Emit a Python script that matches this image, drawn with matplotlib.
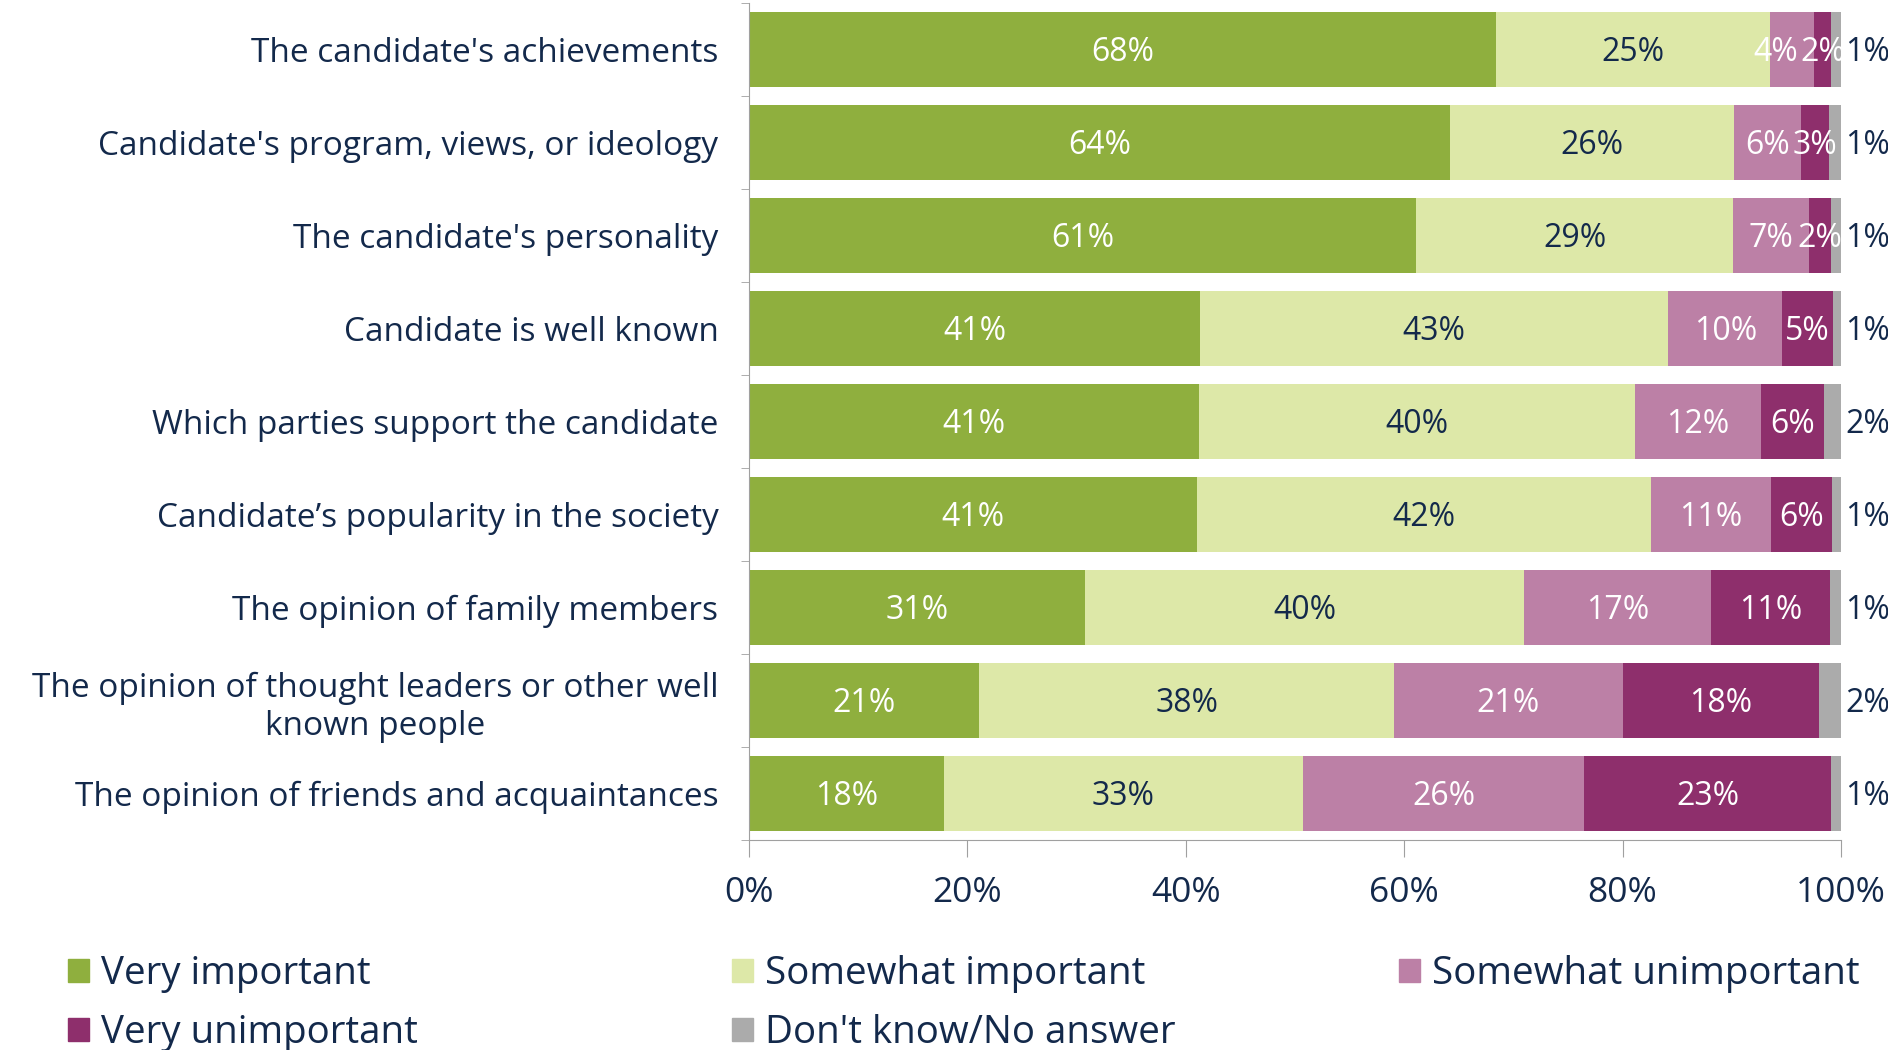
import matplotlib.pyplot as plt
from matplotlib.patches import Patch
from matplotlib.ticker import FixedLocator

plt.rcParams['font.family'] = ['Open Sans', 'DejaVu Sans']

categories = [
    "The candidate's achievements",
    "Candidate's program, views, or ideology",
    "The candidate's personality",
    "Candidate is well known",
    "Which parties support the candidate",
    "Candidate\u2019s popularity in the society",
    "The opinion of family members",
    "The opinion of thought leaders or other well\nknown people",
    "The opinion of friends and acquaintances",
]
series = ["Very important", "Somewhat important", "Somewhat unimportant",
          "Very unimportant", "Don't know/No answer"]

very_imp = [68.4, 64.2, 61.1, 41.3, 41.2, 41.0, 30.8, 21.1, 17.9]
some_imp = [25.1, 26.0, 29.0, 42.9, 39.9, 41.6, 40.2, 38.0, 32.8]
some_unimp = [4.0, 6.1, 7.0, 10.4, 11.6, 11.0, 17.1, 20.9, 25.8]
very_unimp = [1.6, 2.6, 2.0, 4.7, 5.7, 5.6, 10.9, 18.0, 22.6]
dont_know = [0.9, 1.2, 0.9, 0.7, 1.7, 0.9, 1.0, 2.0, 0.9]

colors = ['#8FAF3E', '#DDE8A8', '#BC80A6', '#8E2F6C', '#ABABAB']
label_colors = ['white', '#13294B', 'white', 'white']
navy = '#13294B'

values = [very_imp, some_imp, some_unimp, very_unimp, dont_know]

fig = plt.figure(figsize=(18.88, 10.5), dpi=100)
ax = fig.add_axes([749/1888, 1-840/1050, (1841-749)/1888, 837/1050])

y = list(range(len(categories)))
left = [0]*len(categories)
for k, vals in enumerate(values):
    ax.barh(y, vals, left=left, height=0.8, color=colors[k], label=series[k])
    for i, v in enumerate(vals):
        if k < 4:
            xc = left[i] + v/2
            # narrow pink segment followed by a narrow one: nudge left a bit
            if k == 2 and v < 5 and very_unimp[i] < 3:
                xc -= 1.5
            ax.text(xc, i + 0.03, f"{v:.0f}%", ha='center', va='center',
                    color=label_colors[k], fontsize=23)
        else:
            ax.text(100.4, i + 0.03, f"{v:.0f}%", ha='left', va='center',
                    color=navy, fontsize=23, clip_on=False)
    left = [left[i] + vals[i] for i in range(len(vals))]

ax.set_xlim(0, 100)
ax.set_ylim(len(categories)-0.5, -0.5)
ax.set_xticks([0, 20, 40, 60, 80, 100])
ax.set_xticklabels(['0%', '20%', '40%', '60%', '80%', '100%'])
ax.set_yticks(y)
ax.set_yticklabels(categories, fontsize=24, color=navy)
ax.yaxis.set_minor_locator(FixedLocator([i - 0.5 for i in range(len(categories)+1)]))
ax.tick_params(axis='y', which='major', length=0, pad=22)
ax.tick_params(axis='y', which='minor', length=6, color='#A0A0A0')
ax.tick_params(axis='x', length=12, color='#A0A0A0', labelsize=25.5,
               labelcolor=navy, pad=14)
for lbl in ax.get_yticklabels():
    lbl.set_multialignment('center')
for s in ['top', 'right']:
    ax.spines[s].set_visible(False)
for s in ['left', 'bottom']:
    ax.spines[s].set_color('#A0A0A0')

handles = [Patch(color=c) for c in colors]
cols = [([0, 3], 68), ([1, 4], 732), ([2], 1399)]
for idx, xpix in cols:
    fig.legend([handles[i] for i in idx], [series[i] for i in idx],
               loc='upper left', bbox_to_anchor=(xpix/1888, 1-955/1050),
               frameon=False, fontsize=27.7, handlelength=0.55, handleheight=0.55,
               handletextpad=0.3, labelspacing=0.55, labelcolor=navy,
               borderaxespad=0, borderpad=0)

fig.savefig('out.png', dpi=100)
